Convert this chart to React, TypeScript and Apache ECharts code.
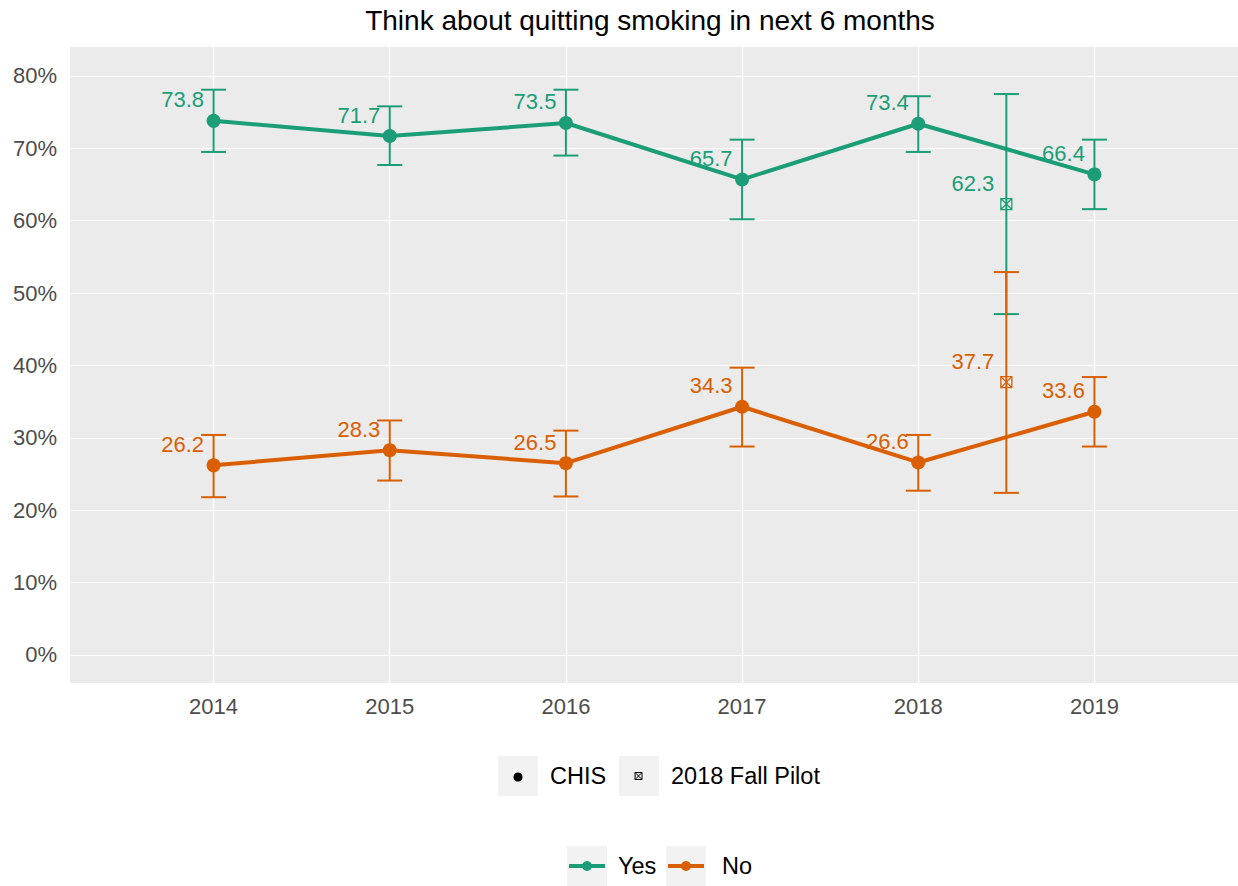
import React, { useEffect, useRef } from "react";
import * as echarts from "echarts";

const years = [2014, 2015, 2016, 2017, 2018, 2019];
const yesValues = [73.8, 71.7, 73.5, 65.7, 73.4, 66.4];
const yesLower = [69.5, 67.7, 69.0, 60.2, 69.5, 61.6];
const yesUpper = [78.1, 75.8, 78.1, 71.2, 77.2, 71.2];
const noValues = [26.2, 28.3, 26.5, 34.3, 26.6, 33.6];
const noLower = [21.8, 24.1, 21.9, 28.8, 22.7, 28.8];
const noUpper = [30.4, 32.4, 31.0, 39.7, 30.4, 38.4];

const pilotX = 2018.5;
const pilotYesValue = 62.3;
const pilotYesLower = 47.1;
const pilotYesUpper = 77.5;
const pilotNoValue = 37.7;
const pilotNoLower = 22.4;
const pilotNoUpper = 52.9;

const yTicks = [0, 10, 20, 30, 40, 50, 60, 70, 80];
const xTicks = years;

const titleText = "Think about quitting smoking in next 6 months";
const shapeLegend = ["CHIS", "2018 Fall Pilot"];
const colorLegend = ["Yes", "No"];

const YES = "#1b9e77";
const NO = "#d95f02";
const FONT = "'Liberation Sans', Arial, sans-serif";
const CROSS_SQ = "path://M0 0 L10 0 L10 10 L0 10 Z M0 0 L10 10 M10 0 L0 10";

function errorBarSeries(name: string, data: number[][], color: string, z: number) {
  return {
    type: "custom",
    name,
    z,
    data,
    encode: { x: 0, y: [1, 2] },
    renderItem: (params: any, api: any) => {
      const x = api.value(0);
      const lo = api.coord([x, api.value(1)]);
      const hi = api.coord([x, api.value(2)]);
      const hw = 12.5;
      const style = { stroke: color, lineWidth: 2 };
      return {
        type: "group",
        children: [
          { type: "line", shape: { x1: lo[0], y1: lo[1], x2: hi[0], y2: hi[1] }, style },
          { type: "line", shape: { x1: lo[0] - hw, y1: lo[1], x2: lo[0] + hw, y2: lo[1] }, style },
          { type: "line", shape: { x1: hi[0] - hw, y1: hi[1], x2: hi[0] + hw, y2: hi[1] }, style },
        ],
      };
    },
  };
}

function labelCfg(color: string, dist: number) {
  return {
    show: true,
    position: "left",
    distance: dist,
    offset: [0, -21],
    color,
    opacity: 1,
    fontSize: 22,
    fontFamily: FONT,
    formatter: (p: any) => (Array.isArray(p.value) ? p.value[1] : p.value).toFixed(1),
  };
}

export default function App() {
  const ref = useRef<HTMLDivElement>(null);
  useEffect(() => {
    if (!ref.current) return;
    const chart = echarts.init(ref.current, null, { renderer: "svg" });

    const yesLine = years.map((y, i) => [y, yesValues[i]]);
    const noLine = years.map((y, i) => [y, noValues[i]]);
    const yesErr = years.map((y, i) => [y, yesLower[i], yesUpper[i]]);
    const noErr = years.map((y, i) => [y, noLower[i], noUpper[i]]);

    const legendY1 = 776;
    const legendY2 = 866;
    const keyFill = "#f2f2f2";
    const legendFont = `23.5px ${FONT}`;

    chart.setOption({
      animation: false,
      backgroundColor: "#ffffff",
      textStyle: { fontFamily: FONT },
      grid: { left: 70, right: 0, top: 47, bottom: 203, containLabel: false, show: true, backgroundColor: "#ebebeb", borderWidth: 0 },
      xAxis: {
        type: "value",
        min: 2013.185,
        max: 2019.815,
        axisLine: { show: false },
        axisTick: { show: false, customValues: xTicks },
        axisLabel: { customValues: xTicks, color: "#4d4d4d", fontSize: 22, fontFamily: FONT, margin: 12, formatter: (v: number) => String(v) },
        splitLine: { show: true, lineStyle: { color: "#ffffff", width: 1.2 } },
      },
      yAxis: {
        type: "value",
        min: -3.87,
        max: 84.0,
        axisLine: { show: false },
        axisTick: { show: false, customValues: yTicks },
        axisLabel: { customValues: yTicks, color: "#4d4d4d", fontSize: 22, fontFamily: FONT, margin: 13, formatter: (v: number) => `${v}%` },
        splitLine: { show: true, lineStyle: { color: "#ffffff", width: 1.2 } },
      },
      series: [
        errorBarSeries("Yes CI", yesErr, YES, 2),
        errorBarSeries("Yes Pilot CI", [[pilotX, pilotYesLower, pilotYesUpper]], YES, 2),
        errorBarSeries("No CI", noErr, NO, 3),
        errorBarSeries("No Pilot CI", [[pilotX, pilotNoLower, pilotNoUpper]], NO, 3),
        {
          type: "line",
          name: "Yes",
          data: yesLine,
          z: 4,
          symbol: "circle",
          symbolSize: 14,
          showAllSymbol: true,
          lineStyle: { color: YES, width: 4 },
          itemStyle: { color: YES },
          label: labelCfg(YES, 2.5),
        },
        {
          type: "line",
          name: "No",
          data: noLine,
          z: 5,
          symbol: "circle",
          symbolSize: 14,
          showAllSymbol: true,
          lineStyle: { color: NO, width: 4 },
          itemStyle: { color: NO },
          label: labelCfg(NO, 2.5),
        },
        {
          type: "scatter",
          name: "Yes Pilot",
          data: [[pilotX, pilotYesValue]],
          z: 6,
          symbol: CROSS_SQ,
          symbolSize: 11,
          itemStyle: { color: "none", borderColor: YES, borderWidth: 1.3, opacity: 1 },
          label: labelCfg(YES, 4),
        },
        {
          type: "scatter",
          name: "No Pilot",
          data: [[pilotX, pilotNoValue]],
          z: 6,
          symbol: CROSS_SQ,
          symbolSize: 11,
          itemStyle: { color: "none", borderColor: NO, borderWidth: 1.3, opacity: 1 },
          label: labelCfg(NO, 4),
        },
      ],
      graphic: [
        {
          type: "text",
          x: 650,
          y: 20,
          style: { text: titleText, fill: "#000000", font: `28px ${FONT}`, align: "center", verticalAlign: "middle" },
        },
        // shape legend
        { type: "rect", shape: { x: 498, y: legendY1 - 20, width: 40, height: 40 }, style: { fill: keyFill } },
        { type: "circle", shape: { cx: 518, cy: legendY1 + 1, r: 4.5 }, style: { fill: "#000000" } },
        { type: "text", x: 550, y: legendY1, style: { text: shapeLegend[0], fill: "#000000", font: legendFont, verticalAlign: "middle" } },
        { type: "rect", shape: { x: 619, y: legendY1 - 20, width: 40, height: 40 }, style: { fill: keyFill } },
        { type: "rect", shape: { x: 635, y: legendY1 - 3.5, width: 7, height: 7 }, style: { fill: "none", stroke: "#000000", lineWidth: 1 } },
        { type: "line", shape: { x1: 635, y1: legendY1 - 3.5, x2: 642, y2: legendY1 + 3.5 }, style: { stroke: "#000000", lineWidth: 1 } },
        { type: "line", shape: { x1: 642, y1: legendY1 - 3.5, x2: 635, y2: legendY1 + 3.5 }, style: { stroke: "#000000", lineWidth: 1 } },
        { type: "text", x: 671, y: legendY1, style: { text: shapeLegend[1], fill: "#000000", font: legendFont, verticalAlign: "middle" } },
        // color legend
        { type: "rect", shape: { x: 567, y: legendY2 - 20, width: 40, height: 40 }, style: { fill: keyFill } },
        { type: "line", shape: { x1: 569, y1: legendY2, x2: 605, y2: legendY2 }, style: { stroke: YES, lineWidth: 4 } },
        { type: "circle", shape: { cx: 587, cy: legendY2, r: 5 }, style: { fill: YES } },
        { type: "text", x: 618, y: legendY2, style: { text: colorLegend[0], fill: "#000000", font: legendFont, verticalAlign: "middle" } },
        { type: "rect", shape: { x: 666, y: legendY2 - 20, width: 40, height: 40 }, style: { fill: keyFill } },
        { type: "line", shape: { x1: 668, y1: legendY2, x2: 704, y2: legendY2 }, style: { stroke: NO, lineWidth: 4 } },
        { type: "circle", shape: { cx: 686, cy: legendY2, r: 5 }, style: { fill: NO } },
        { type: "text", x: 722, y: legendY2, style: { text: colorLegend[1], fill: "#000000", font: legendFont, verticalAlign: "middle" } },
      ],
    });
    return () => chart.dispose();
  }, []);
  return <div ref={ref} style={{ position: "fixed", left: 0, top: 0, width: 1238, height: 886 }} />;
}
